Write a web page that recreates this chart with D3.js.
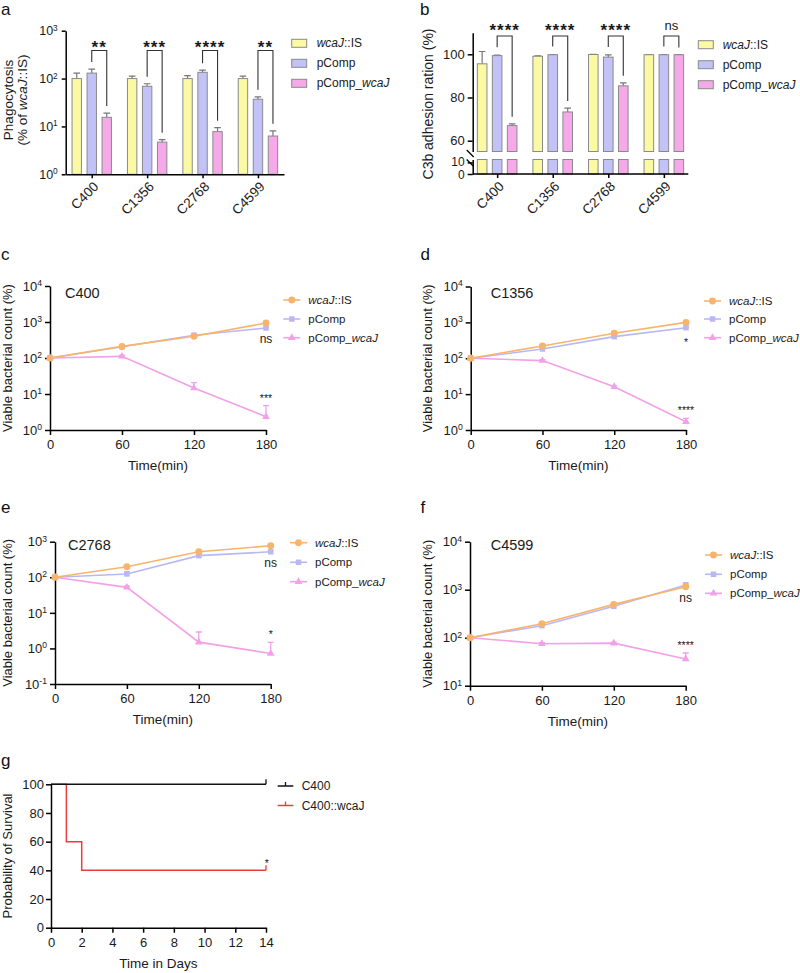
<!DOCTYPE html>
<html><head><meta charset="utf-8">
<script src="https://cdn.jsdelivr.net/npm/d3@7"></script>
<style>
body{margin:0;background:#fff}
svg{display:block;font-family:"Liberation Sans",Arial,sans-serif}
</style></head><body>
<script>
// ---------- DATA ----------
const groups = ["C400","C1356","C2768","C4599"];
const legendBar = [[["wcaJ",1],["::IS",0]],[["pComp",0]],[["pComp_",0],["wcaJ",1]]];

// panel a: phagocytosis (% of wcaJ::IS)
const phagoIS = [100,100,100,100];
const phagoISErr = [30,12,15,12];
const phagoPComp = [130,69,135,37];
const phagoPCompErr = [28,9,15,4.5];
const phagoWcaJ = [15.5,4.7,7.8,6.3];
const phagoWcaJErr = [3.5,0.6,1.6,1.8];
const phagoSig = ["**","***","****","**"];
const phagoTicks = [1,10,100,1000];

// panel b: C3b adhesion ration (%)
const c3bIS = [95.6,99.1,99.9,99.8];
const c3bISErr = [5.7,0.2,0.1,0.1];
const c3bPComp = [99.4,99.8,98.7,99.8];
const c3bPCompErr = [0.2,0.1,1.0,0.1];
const c3bWcaJ = [67,73.3,85.4,99.8];
const c3bWcaJErr = [0.8,1.8,1.4,0.1];
const c3bSig = ["****","****","****","ns"];
const c3bTicksUpper = [60,80,100];
const c3bTicksLower = [0,10];

// panels c-f: viable bacterial count (%)
const timeMin = [0,60,120,180];
const c400IS = [100,210,400,940],   c400ISErr = [0,12,25,60];
const c400PComp = [100,205,430,680], c400PCompErr = [0,10,30,50];
const c400WcaJ = [100,111,14.7,2.34], c400WcaJErr = [0,8,6,2.4];
const c1356IS = [100,220,495,1000],  c1356ISErr = [0,10,30,60];
const c1356PComp = [100,181,400,710], c1356PCompErr = [0,8,20,40];
const c1356WcaJ = [100,86,16,1.7],   c1356WcaJErr = [0,5,1,0.4];
const c2768IS = [100,198,524,770],   c2768ISErr = [0,10,30,60];
const c2768PComp = [100,124,405,520], c2768PCompErr = [0,20,30,40];
const c2768WcaJ = [100,52,1.5,0.72], c2768WcaJErr = [0,4,1.4,0.75];
const c4599IS = [100,196,495,1150],  c4599ISErr = [0,10,25,60];
const c4599PComp = [100,178,450,1250], c4599PCompErr = [0,8,20,150];
const c4599WcaJ = [100,75,77,36],    c4599WcaJErr = [0,4,4,12];
const killSigTop = ["ns","*","ns","ns"];
const killSigBottom = ["***","****","*","****"];

// panel g: survival
const days = [0,1,2,14];
const survC400 = [100,100,100,100];
const survWcaJ = [100,60,40,40];
const survSig = "*";
const survLegend = ["C400","C400::wcaJ"];

// ---------- STYLE ----------
const FONT = '"Liberation Sans", Arial, sans-serif';
const barCol = ["#fbf9a3","#c3c2f7","#f6a9e8"];
const barStroke = "#8a8a8a";
const lineCol = ["#f8b46c","#b9b8f5","#f3a0e8"];

const svg = d3.select("body").append("svg").attr("width",800).attr("height",973)
  .attr("font-family",FONT);

function styleAxis(g, fs){
  g.attr("font-family",FONT).attr("font-size",fs);
  g.selectAll(".domain").attr("stroke","#000").attr("stroke-width",1.5);
  g.selectAll(".tick line").attr("stroke","#000").attr("stroke-width",1.5);
  g.selectAll(".tick text").attr("fill","#1a1a1a");
}
function supLabels(g){
  g.selectAll(".tick text").each(function(d){
    const t = d3.select(this); t.text(null);
    t.append("tspan").text("10");
    t.append("tspan").attr("dy","-0.55em").attr("font-size","0.66em").text(Math.round(Math.log10(d)));
  });
}
function rich(t, parts){
  parts.forEach(p => t.append("tspan").attr("font-style", p[1] ? "italic" : null).text(p[0]));
  return t;
}
function panelLetter(x,y,s){
  svg.append("text").attr("x",x).attr("y",y).attr("font-size",17).attr("fill","#111").text(s);
}
function yTitle(x,y,parts,fs){
  const t = svg.append("text").attr("transform",`translate(${x},${y}) rotate(-90)`)
    .attr("text-anchor","middle").attr("font-size",fs).attr("fill","#1a1a1a");
  rich(t, parts);
}
function starText(g,x,yc,s,fs,bold){
  const isStar = s.indexOf("*")>=0;
  g.append("text").attr("x",x).attr("y", isStar ? yc + 0.57*fs : yc + 0.27*fs)
    .attr("text-anchor","middle").attr("font-size",fs)
    .attr("font-weight", bold && isStar ? "bold" : null)
    .attr("letter-spacing", isStar && bold ? 1 : 0)
    .attr("fill","#1a1a1a").text(s);
}

// ---------- PANEL a ----------
(function(){
  const x0=65.7, x1=284, yT=30.7, yB=174.3;
  const x = d3.scalePoint().domain(groups).range([x0,x1]).padding(0.47);
  const y = d3.scaleLog().domain([1,1000]).range([yB,yT]);
  const g = svg.append("g");
  const offs=[-15,0,15], bw=9.4;
  const series=[[phagoIS,phagoISErr],[phagoPComp,phagoPCompErr],[phagoWcaJ,phagoWcaJErr]];
  series.forEach(([v,e],si)=>{
    g.selectAll(null).data(groups).join("path")
      .attr("d",(d,i)=>{const cx=x(d)+offs[si], y1=y(v[i]), y2=y(v[i]+e[i]);
        return `M${cx},${y1}V${y2}M${cx-3.3},${y2}H${cx+3.3}`;})
      .attr("stroke","#777").attr("stroke-width",1.2).attr("fill","none");
    g.selectAll(null).data(groups).join("rect")
      .attr("x",d=>x(d)+offs[si]-bw/2).attr("width",bw)
      .attr("y",(d,i)=>y(v[i])).attr("height",(d,i)=>y(1)-y(v[i]))
      .attr("fill",barCol[si]).attr("stroke",barStroke).attr("stroke-width",1);
  });
  const brY=50.5;
  groups.forEach((d,i)=>{
    const xl=x(d)+offs[1], xr=x(d)+offs[2];
    const yl=y(phagoPComp[i]+phagoPCompErr[i])-7, yr=y(phagoWcaJ[i]+phagoWcaJErr[i])-7;
    g.append("path").attr("d",`M${xl},${yl}V${brY}H${xr}V${yr}`)
      .attr("fill","none").attr("stroke","#333").attr("stroke-width",1.1);
    starText(g,(xl+xr)/2,43.3,phagoSig[i],17,true);
  });
  const ay=g.append("g").attr("transform",`translate(${x0},0)`)
    .call(d3.axisLeft(y).tickValues(phagoTicks).tickSize(4).tickPadding(4).tickSizeOuter(0));
  supLabels(ay); styleAxis(ay,12.5);
  const ax=g.append("g").attr("transform",`translate(0,${yB})`)
    .call(d3.axisBottom(x).tickSize(4).tickSizeOuter(0));
  styleAxis(ax,13.5);
  ax.selectAll(".tick text").attr("x",0).attr("y",0).attr("dy",null)
    .attr("transform","translate(4,10) rotate(-45)").attr("text-anchor","end")
    .attr("dominant-baseline","central");
  legendBar.forEach((p,i)=>{
    const ly=43.3+i*20;
    g.append("rect").attr("x",291.7).attr("y",ly-4).attr("width",15).attr("height",8)
      .attr("fill",barCol[i]).attr("stroke",barStroke);
    rich(g.append("text").attr("x",316.7).attr("y",ly).attr("dominant-baseline","central")
      .attr("font-size",12).attr("fill","#1a1a1a"), p);
  });
  panelLetter(1,15,"a");
  svg.append("text").attr("transform","translate(12.5,100) rotate(-90)")
    .attr("text-anchor","middle").attr("font-size",13.5).attr("fill","#1a1a1a").text("Phagocytosis");
  yTitle(26.5,100,[["(% of ",0],["wcaJ",1],["::IS)",0]],13.5);
})();

// ---------- PANEL b ----------
(function(){
  const x0=472.7, x1=688.3;
  const x = d3.scalePoint().domain(groups).range([x0,x1]).padding(0.44);
  const yU = d3.scaleLinear().domain([55,110]).range([151.5,32.7]);
  const yL = d3.scaleLinear().domain([0,12.5]).range([174,159.5]);
  const g = svg.append("g");
  const offs=[-15,0,15], bw=9.6;
  const series=[[c3bIS,c3bISErr],[c3bPComp,c3bPCompErr],[c3bWcaJ,c3bWcaJErr]];
  series.forEach(([v,e],si)=>{
    g.selectAll(null).data(groups).join("path")
      .attr("d",(d,i)=>{const cx=x(d)+offs[si], y1=yU(v[i]), y2=yU(v[i]+e[i]);
        return `M${cx},${y1}V${y2}M${cx-3.3},${y2}H${cx+3.3}`;})
      .attr("stroke","#777").attr("stroke-width",1.2).attr("fill","none");
    g.selectAll(null).data(groups).join("rect")
      .attr("x",d=>x(d)+offs[si]-bw/2).attr("width",bw)
      .attr("y",(d,i)=>yU(v[i])).attr("height",(d,i)=>yU(55)-yU(v[i]))
      .attr("fill",barCol[si]).attr("stroke",barStroke).attr("stroke-width",1);
    g.selectAll(null).data(groups).join("rect")
      .attr("x",d=>x(d)+offs[si]-bw/2).attr("width",bw)
      .attr("y",yL(12.5)).attr("height",yL(0)-yL(12.5))
      .attr("fill",barCol[si]).attr("stroke",barStroke).attr("stroke-width",1);
  });
  const brY=36;
  groups.forEach((d,i)=>{
    const xl=x(d)+offs[1], xr=x(d)+offs[2];
    const yl=yU(c3bPComp[i]+c3bPCompErr[i])-8, yr=yU(c3bWcaJ[i]+c3bWcaJErr[i])-7;
    g.append("path").attr("d",`M${xl},${yl}V${brY}H${xr}V${yr}`)
      .attr("fill","none").attr("stroke","#333").attr("stroke-width",1.1);
    starText(g,(xl+xr)/2,c3bSig[i]==="ns"?26:26.5,c3bSig[i],c3bSig[i]==="ns"?13:17,true);
  });
  const ay1=g.append("g").attr("transform",`translate(${x0},0)`)
    .call(d3.axisLeft(yU).tickValues(c3bTicksUpper).tickSize(5).tickPadding(3).tickSizeOuter(0));
  styleAxis(ay1,13);
  const ay2=g.append("g").attr("transform",`translate(${x0},0)`)
    .call(d3.axisLeft(yL).tickValues(c3bTicksLower).tickSize(5).tickPadding(3).tickSizeOuter(0));
  styleAxis(ay2,12);
  ay2.selectAll(".tick text").attr("dy",d=>d===0?"0.4em":"0.25em");
  [153.5,163].forEach(by=>{
    g.append("line").attr("x1",x0-6).attr("y1",by-3.5).attr("x2",x0+1).attr("y2",by+3.5)
      .attr("stroke","#000").attr("stroke-width",1.3);
  });
  const ax=g.append("g").attr("transform",`translate(0,174)`)
    .call(d3.axisBottom(x).tickSize(4).tickSizeOuter(0));
  ax.select(".domain").attr("d",`M${x0},0H${x1}`);
  styleAxis(ax,13.5);
  ax.selectAll(".tick text").attr("x",0).attr("y",0).attr("dy",null)
    .attr("transform","translate(4,10) rotate(-45)").attr("text-anchor","end")
    .attr("dominant-baseline","central");
  legendBar.forEach((p,i)=>{
    const ly=44.7+i*20;
    g.append("rect").attr("x",698.3).attr("y",ly-4).attr("width",15).attr("height",8)
      .attr("fill",barCol[i]).attr("stroke",barStroke);
    rich(g.append("text").attr("x",722.7).attr("y",ly).attr("dominant-baseline","central")
      .attr("font-size",12).attr("fill","#1a1a1a"), p);
  });
  panelLetter(420,15,"b");
  yTitle(433,104,[["C3b adhesion ration (%)",0]],14);
})();

// ---------- PANELS c-f ----------
function killPanel(o){
  const x = d3.scaleLinear().domain([0,180]).range([o.x0,o.x1]);
  const y = d3.scaleLog().domain(o.ydom).range([o.yB,o.yT]);
  const g = svg.append("g");
  const ay=g.append("g").attr("transform",`translate(${o.x0},0)`)
    .call(d3.axisLeft(y).tickValues(o.yticks).tickSize(5).tickPadding(3).tickSizeOuter(0));
  supLabels(ay); styleAxis(ay,13);
  const ax=g.append("g").attr("transform",`translate(0,${o.yB})`)
    .call(d3.axisBottom(x).tickValues(timeMin).tickSize(5).tickPadding(5).tickSizeOuter(0));
  styleAxis(ax,13);
  const line = d3.line().x((d,i)=>x(timeMin[i])).y(d=>y(d));
  const syms=[d3.symbolCircle,d3.symbolSquare,d3.symbolTriangle], symSize=[38,30,26];
  [2,1,0].forEach(si=>{
    const v=o.series[si][0], e=o.series[si][1], c=lineCol[si];
    g.append("path").datum(v).attr("d",line).attr("fill","none").attr("stroke",c).attr("stroke-width",1.6);
    g.selectAll(null).data(v).join("path")
      .attr("d",(d,i)=>{const cx=x(timeMin[i]), y1=y(d), y2=y(d+e[i]);
        return `M${cx},${y1}V${y2}M${cx-3},${y2}H${cx+3}`;})
      .attr("stroke",c).attr("stroke-width",1.3).attr("fill","none");
    g.selectAll(null).data(v).join("path")
      .attr("transform",(d,i)=>`translate(${x(timeMin[i])},${y(d)})`)
      .attr("d",d3.symbol(syms[si],symSize[si])).attr("fill",c);
  });
  const s=o.series;
  const topY=Math.max(y(s[0][0][3]),y(s[1][0][3]))+12;
  starText(g,x(180),topY,o.sigTop,o.sigTop==="ns"?12:10.5,false);
  starText(g,x(180),y(s[2][0][3]+s[2][1][3])-10,o.sigBottom,10.5,false);
  g.append("text").attr("x",o.x0+o.labDx).attr("y",o.labY).attr("font-size",14.5)
    .attr("fill","#1a1a1a").text(o.name);
  legendBar.forEach((p,i)=>{
    const ly=o.legY[i];
    g.append("line").attr("x1",o.legX).attr("x2",o.legX+17).attr("y1",ly).attr("y2",ly)
      .attr("stroke",lineCol[i]).attr("stroke-width",1.6);
    g.append("path").attr("transform",`translate(${o.legX+8.5},${ly})`)
      .attr("d",d3.symbol(syms[i],symSize[i])).attr("fill",lineCol[i]);
    rich(g.append("text").attr("x",o.legX+25).attr("y",ly).attr("dominant-baseline","central")
      .attr("font-size",11.5).attr("fill","#1a1a1a"), p);
  });
  svg.append("text").attr("x",(o.x0+o.x1)/2).attr("y",o.yB+40).attr("text-anchor","middle")
    .attr("font-size",13.5).attr("fill","#1a1a1a").text("Time(min)");
  yTitle(o.titleX,(o.yT+o.yB)/2+o.titleDy,[["Viable bacterial count (%)",0]],13);
  panelLetter(o.letX,o.letY,o.letter);
}
killPanel({name:groups[0],letter:"c",x0:50,x1:266,yT:286,yB:430,ydom:[1,1e4],yticks:[1,10,100,1000,10000],
  series:[[c400IS,c400ISErr],[c400PComp,c400PCompErr],[c400WcaJ,c400WcaJErr]],
  sigTop:killSigTop[0],sigBottom:killSigBottom[0],labDx:15,labY:298,legX:283.3,legY:[300,319,337.7],
  titleX:12,titleDy:0,letX:1,letY:260});
killPanel({name:groups[1],letter:"d",x0:470.7,x1:686,yT:286.5,yB:430,ydom:[1,1e4],yticks:[1,10,100,1000,10000],
  series:[[c1356IS,c1356ISErr],[c1356PComp,c1356PCompErr],[c1356WcaJ,c1356WcaJErr]],
  sigTop:killSigTop[1],sigBottom:killSigBottom[1],labDx:20,labY:298,legX:704,legY:[301,319,337.7],
  titleX:432,titleDy:0,letX:420.5,letY:260});
killPanel({name:groups[2],letter:"e",x0:55,x1:270.7,yT:541.7,yB:684,ydom:[0.1,1000],yticks:[0.1,1,10,100,1000],
  series:[[c2768IS,c2768ISErr],[c2768PComp,c2768PCompErr],[c2768WcaJ,c2768WcaJErr]],
  sigTop:killSigTop[2],sigBottom:killSigBottom[2],labDx:13,labY:550,legX:290,legY:[542.7,562.3,581.7],
  titleX:12,titleDy:0,letX:1,letY:513});
killPanel({name:groups[3],letter:"f",x0:470,x1:685.7,yT:541.7,yB:685.7,ydom:[10,1e4],yticks:[10,100,1000,10000],
  series:[[c4599IS,c4599ISErr],[c4599PComp,c4599PCompErr],[c4599WcaJ,c4599WcaJErr]],
  sigTop:killSigTop[3],sigBottom:killSigBottom[3],labDx:20.7,labY:550,legX:705,legY:[555,574.3,593.3],
  titleX:432,titleDy:0,letX:420.5,letY:513});

// ---------- PANEL g ----------
(function(){
  const x0=51, x1=266, yT=784.3, yB=927.7;
  const x = d3.scaleLinear().domain([0,14]).range([x0,x1]);
  const y = d3.scaleLinear().domain([0,100]).range([yB,yT]);
  const g = svg.append("g");
  const ay=g.append("g").attr("transform",`translate(${x0},0)`)
    .call(d3.axisLeft(y).tickValues(d3.range(0,101,20)).tickSize(5).tickPadding(2).tickSizeOuter(0));
  styleAxis(ay,13);
  const ax=g.append("g").attr("transform",`translate(0,${yB})`)
    .call(d3.axisBottom(x).tickValues(d3.range(0,15,2)).tickSize(5).tickPadding(5).tickSizeOuter(0));
  styleAxis(ax,13);
  const line = d3.line().curve(d3.curveStepAfter).x((d,i)=>x(days[i])).y(d=>y(d));
  const cols=["#111","#ee3b3b"];
  [[survWcaJ,1],[survC400,0]].forEach(([v,ci])=>{
    g.append("path").datum(v).attr("d",line).attr("fill","none").attr("stroke",cols[ci]).attr("stroke-width",1.5);
    g.append("line").attr("x1",x(days[3])).attr("x2",x(days[3]))
      .attr("y1",y(v[3])-5).attr("y2",y(v[3])).attr("stroke",cols[ci]).attr("stroke-width",1.3);
  });
  starText(g,x(14)+0.7,y(survWcaJ[3])-9,survSig,10.5,false);
  survLegend.forEach((s,i)=>{
    const ly=786+i*19.5;
    g.append("line").attr("x1",277.7).attr("x2",293.3).attr("y1",ly).attr("y2",ly)
      .attr("stroke",cols[i]).attr("stroke-width",1.5);
    g.append("line").attr("x1",285.5).attr("x2",285.5).attr("y1",ly-4).attr("y2",ly)
      .attr("stroke",cols[i]).attr("stroke-width",1.3);
    g.append("text").attr("x",301.7).attr("y",ly).attr("dominant-baseline","central")
      .attr("font-size",12).attr("fill","#1a1a1a").text(s);
  });
  svg.append("text").attr("x",(x0+x1)/2).attr("y",968).attr("text-anchor","middle")
    .attr("font-size",13.5).attr("fill","#1a1a1a").text("Time in Days");
  yTitle(11.5,(yT+yB)/2,[["Probability of Survival",0]],13);
  panelLetter(1,766,"g");
})();
</script>
</body></html>
